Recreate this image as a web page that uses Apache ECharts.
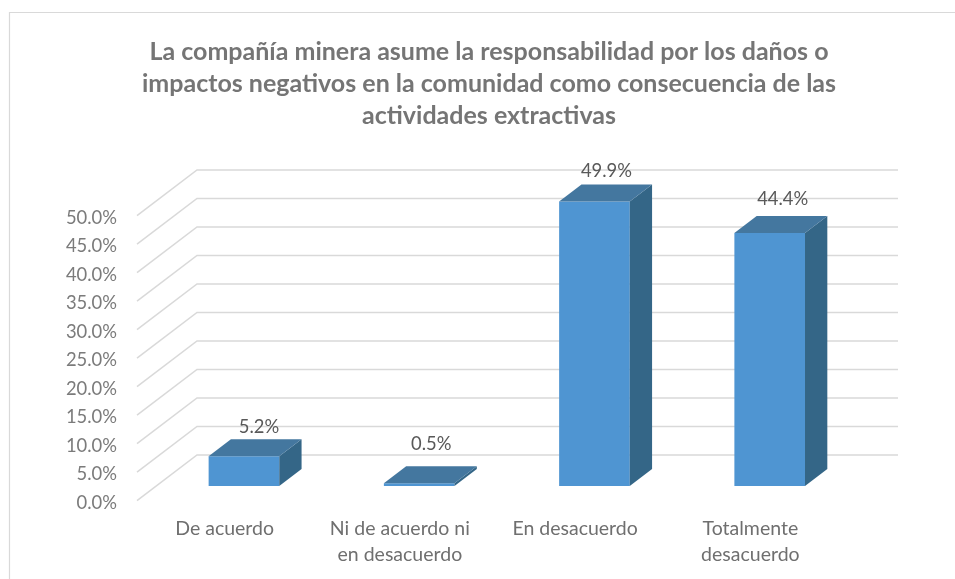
<!DOCTYPE html>
<html>
<head>
<meta charset="utf-8">
<title>Responsabilidad de la compañía minera</title>
<style>
    html, body { margin: 0; padding: 0; background: #fff; }
    #chart { width: 955px; height: 579px; }
</style>
<script src="https://cdn.jsdelivr.net/npm/echarts@6/dist/echarts.min.js"></script>
</head>
<body>
<div id="chart"></div>
<script>
    const titleText = 'La compañía minera asume la responsabilidad por los daños o\nimpactos negativos en la comunidad como consecuencia de las\nactividades extractivas'
    const categories = ['De acuerdo', 'Ni de acuerdo ni\nen desacuerdo', 'En desacuerdo', 'Totalmente\ndesacuerdo']
    const values = [5.2, 0.5, 49.9, 44.4]
    const yTicks = [0, 5, 10, 15, 20, 25, 30, 35, 40, 45, 50]

    // fake 3D: how far the back wall sits from the axis plane, in px
    const wallDx = 60
    const wallDy = -45.7
    const barWidthRatio = 0.403
    const barFront = 0.322 // share of the wall depth
    const barBack = 0.694
    // data labels were placed by hand in the original
    const labelLift = [29, 39, 30, 34]
    const labelShift = [15, 12, 12, 13]

    const fontName = 'Lato, Carlito, sans-serif'
    const chart = echarts.init(document.getElementById('chart'), null, { renderer: 'canvas' })

    // gridlines: slanted from the axis plane, then along the back wall
    function renderWall (params, api) {
        const v = api.value(1)
        const band = api.size([1, 0])[0]
        const left = api.coord([0, v])
        const right = api.coord([categories.length - 1, v])
        const x0 = left[0] - band / 2
        const x1 = right[0] + band / 2
        return {
            type: 'polyline',
            shape: { points: [[x0, left[1]], [x0 + wallDx, left[1] + wallDy], [x1 + wallDx, left[1] + wallDy]] },
            style: { stroke: '#d9d9d9', lineWidth: 1.5, fill: null }
        }
    }

    function renderBar (params, api) {
        const i = api.value(0)
        const v = api.value(1)
        const top = api.coord([i, v])
        const base = api.coord([i, 0])
        const w = api.size([1, 0])[0] * barWidthRatio
        const fx = wallDx * barFront
        const fy = wallDy * barFront
        const dx = wallDx * (barBack - barFront)
        const dy = wallDy * (barBack - barFront)
        const x0 = top[0] - w / 2 + fx
        const x1 = x0 + w
        const yTop = top[1] + fy
        const yBase = base[1] + fy
        return {
            type: 'group',
            children: [
                {
                    type: 'polygon',
                    shape: { points: [[x0, yBase], [x1, yBase], [x1, yTop], [x0, yTop]] },
                    style: { fill: '#4f95d2' }
                },
                {
                    type: 'polygon',
                    shape: { points: [[x1, yBase], [x1 + dx, yBase + dy], [x1 + dx, yTop + dy], [x1, yTop]] },
                    style: { fill: '#346687' }
                },
                {
                    type: 'polygon',
                    shape: { points: [[x0, yTop], [x0 + dx, yTop + dy], [x1 + dx, yTop + dy], [x1, yTop]] },
                    style: { fill: '#44779f' }
                },
                {
                    type: 'text',
                    style: {
                        x: top[0] + fx + labelShift[i],
                        y: yTop - labelLift[i],
                        text: v.toFixed(1) + '%',
                        fill: '#595959',
                        font: '18.4px ' + fontName,
                        align: 'center',
                        verticalAlign: 'middle'
                    }
                }
            ]
        }
    }

    const options = {
        animation: false,
        backgroundColor: '#fff',
        title: {
            text: titleText,
            left: 484,
            top: 31,
            textAlign: 'center',
            textStyle: { color: '#757575', fontFamily: fontName, fontWeight: 'bold', fontSize: 25, lineHeight: 32 }
        },
        grid: { left: 137, top: 215.7, width: 701, height: 285 },
        xAxis: {
            type: 'category',
            data: categories,
            axisLine: { show: false },
            axisTick: { show: false },
            axisLabel: { color: '#6f6f6f', fontFamily: fontName, fontSize: 19.5, lineHeight: 26, margin: 15, interval: 0 }
        },
        yAxis: {
            type: 'value',
            min: 0,
            max: 50,
            interval: 5,
            axisLine: { show: false },
            axisTick: { show: false },
            splitLine: { show: false },
            axisLabel: {
                color: '#7b7b7b',
                fontFamily: fontName,
                fontSize: 18.4,
                margin: 20,
                formatter: (v) => '{t|' + v.toFixed(1) + '%}',
                rich: {
                    t: { color: '#7b7b7b', fontFamily: fontName, fontSize: 18.4, padding: [4, 0, 0, 0] }
                }
            }
        },
        graphic: [
            // chart area frame, only the top and left edges are inside the crop
            {
                type: 'polyline',
                silent: true,
                shape: { points: [[9.5, 579], [9.5, 12.5], [955, 12.5]] },
                style: { stroke: '#d9d9d9', lineWidth: 1.2, fill: null }
            }
        ],
        series: [
            {
                type: 'custom',
                name: 'grid',
                silent: true,
                clip: false,
                z: 1,
                renderItem: renderWall,
                data: yTicks.map((t) => [0, t])
            },
            {
                type: 'custom',
                name: 'Respuestas',
                clip: false,
                z: 2,
                renderItem: renderBar,
                data: values.map((v, i) => [i, v])
            }
        ]
    }
    chart.setOption(options)
</script>
</body>
</html>
